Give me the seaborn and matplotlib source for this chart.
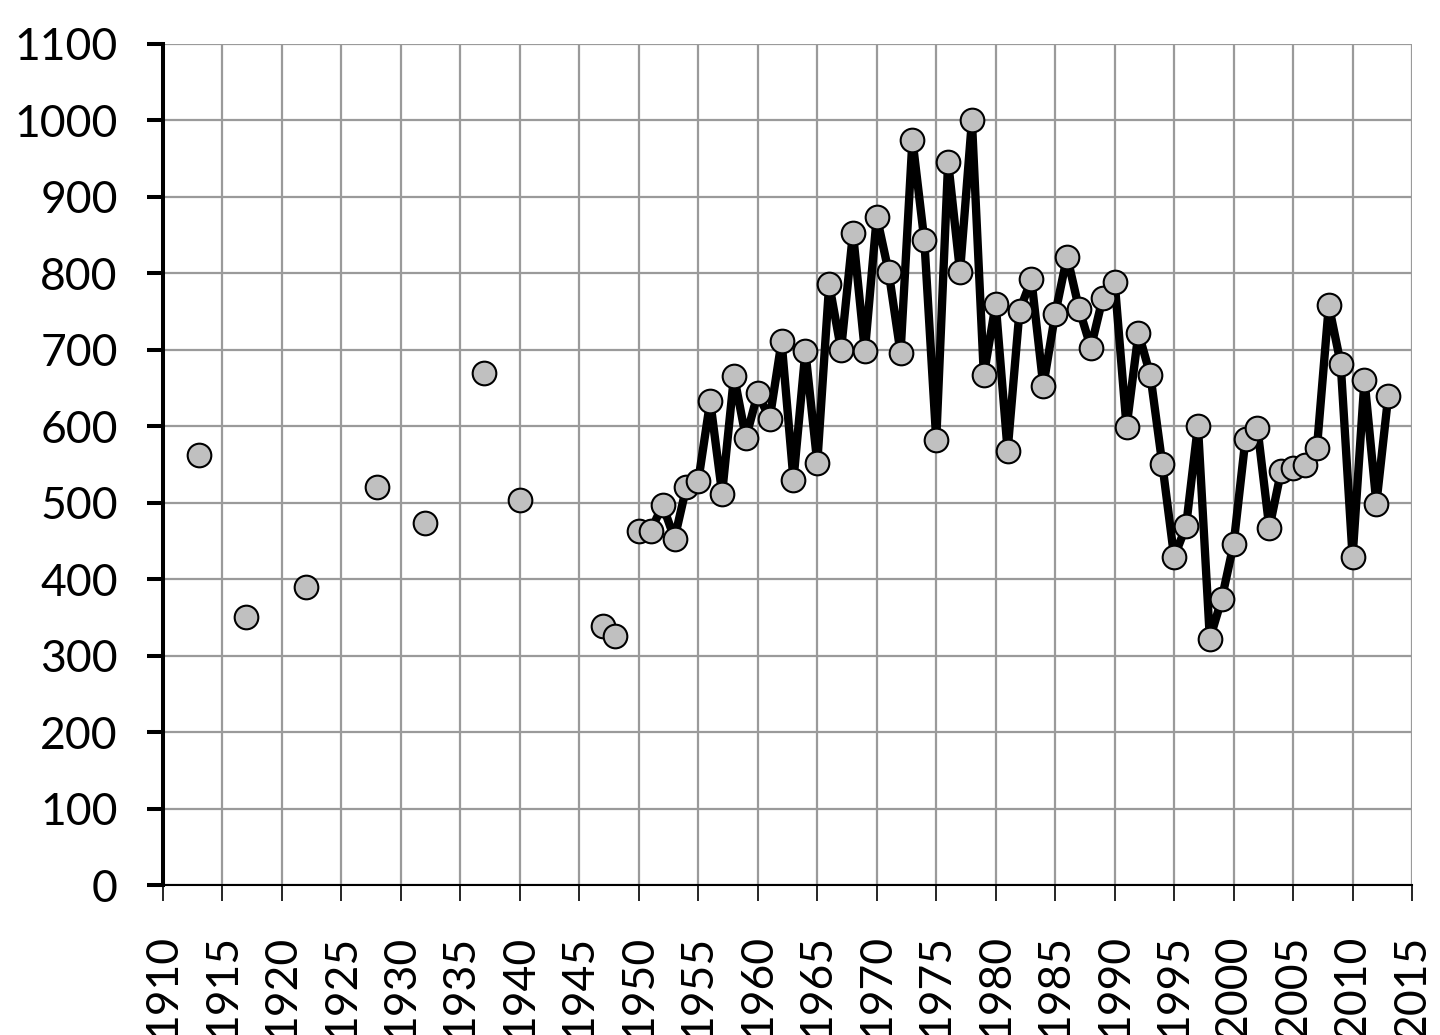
import numpy as np
import pandas as pd
import seaborn as sns
import matplotlib
matplotlib.use("Agg")
import matplotlib.pyplot as plt

# Isolated early observations (no connecting line)
early_years = [1913, 1917, 1922, 1928, 1932, 1937, 1940, 1947, 1948]
early_values = [563, 351, 390, 520, 474, 670, 504, 339, 326]

# Continuous annual series
years = list(range(1950, 2014))
values = [
    463, 463, 497, 453, 521, 529, 633, 512, 666, 585,  # 1950-1959
    643, 610, 711, 530, 698, 552, 786, 700, 853, 698,  # 1960-1969
    874, 802, 696, 975, 843, 582, 946, 802, 1000, 667,  # 1970-1979
    760, 568, 751, 792, 653, 747, 822, 754, 703, 768,  # 1980-1989
    789, 599, 722, 667, 551, 429, 469, 601, 322, 374,  # 1990-1999
    446, 584, 598, 467, 542, 545, 550, 571, 758, 682,  # 2000-2009
    429, 661, 499, 640,                                # 2010-2013
]

x_ticks = list(range(1910, 2016, 5))
y_ticks = list(range(0, 1101, 100))

early_df = pd.DataFrame({"year": early_years, "value": early_values})
series_df = pd.DataFrame({"year": years, "value": values})

sns.set_style("white")
plt.rcParams["font.family"] = ["Lato", "DejaVu Sans"]

fig = plt.figure(figsize=(14.4, 10.35), dpi=100)
ax = fig.add_axes([0.1132, 0.1449, 0.8674, 0.8126])

marker_kw = dict(s=290, color="#c0c0c0", edgecolor="black", linewidth=1.5, zorder=4)

sns.lineplot(data=series_df, x="year", y="value", ax=ax, color="black",
             linewidth=6, zorder=3, legend=False)
sns.scatterplot(data=series_df, x="year", y="value", ax=ax, legend=False, **marker_kw)
sns.scatterplot(data=early_df, x="year", y="value", ax=ax, legend=False, **marker_kw)

ax.set_xlim(1910, 2015)
ax.set_ylim(0, 1100)
ax.set_xticks(x_ticks)
ax.set_yticks(y_ticks)
ax.set_xticklabels([str(t) for t in x_ticks], rotation=90)
ax.set_xlabel("")
ax.set_ylabel("")

ax.grid(True, color="#9a9a9a", linewidth=1.6, zorder=0)
ax.set_axisbelow(True)

for side in ["top", "right"]:
    ax.spines[side].set_visible(False)
ax.spines["left"].set_color("black")
ax.spines["left"].set_linewidth(2.9)
ax.spines["bottom"].set_color("black")
ax.spines["bottom"].set_linewidth(1.5)

ax.tick_params(axis="y", left=True, direction="out", length=11.5, width=2.9,
               pad=21, labelsize=32, colors="black")
ax.tick_params(axis="x", bottom=True, direction="out", length=11.5, width=1.2,
               pad=24, labelsize=32, colors="black")

fig.savefig("out.png", dpi=100, facecolor="white")
